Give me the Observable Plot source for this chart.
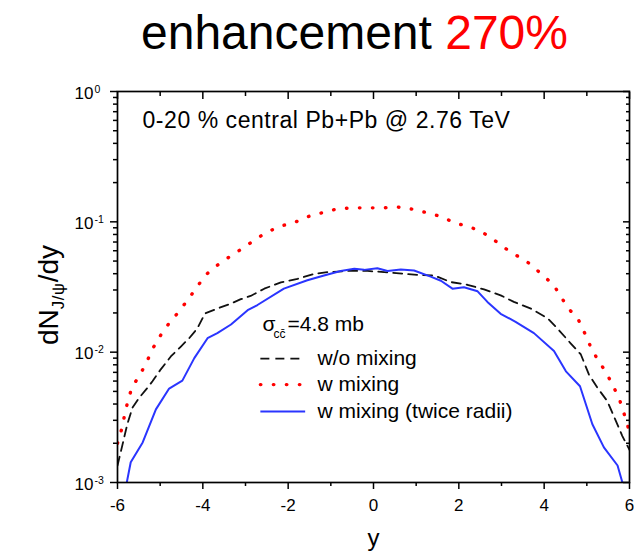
<!DOCTYPE html>
<html>
<head>
<meta charset="utf-8">
<script src="https://cdn.jsdelivr.net/npm/d3@7"></script>
<script src="https://cdn.jsdelivr.net/npm/@observablehq/plot@0.6"></script>
<style>
  html, body { margin: 0; padding: 0; background: #fff; }
  #page { position: relative; width: 634px; height: 552px; font-family: "Liberation Sans", Arial, sans-serif; color: #000; }
  #title { position: relative; width: 634px; height: 70px; }
  #title span.t { position: absolute; left: 141px; top: 9px; font-size: 48px; line-height: 48px; white-space: nowrap; }
  #title .red { color: #ff0000; }
  #ylab { position: absolute; left: 54px; top: 295px; transform: translate(-50%, -50%) rotate(-90deg);
          font-size: 28px; line-height: 28px; white-space: nowrap; }
  #ylab sub { font-size: 0.6em; vertical-align: -0.3em; letter-spacing: 0.6px; }
  svg { display: block; }
</style>
</head>
<body>
<div id="page">
  <div id="title"><span class="t">enhancement <span class="red">270%</span></span></div>
  <div id="chart"></div>
  <div id="ylab">dN<sub>J/ψ</sub>/dy</div>
</div>
<script>
// J/psi rapidity distributions, 0-20% central Pb+Pb at 2.76 TeV
// without mixing (black dashed)
const rapWo = [-6.0,-5.88,-5.77,-5.65,-5.49,-5.30,-5.18,-4.99,-4.75,-4.52,-4.32,-4.13,-3.95,-3.66,-3.34,-3.11,-2.88,-2.56,-2.17,-1.78,-1.39,-1.08,-0.53,-0.14,0.25,1.03,1.42,1.81,2.20,2.59,2.98,3.29,3.69,4.08,4.31,4.62,4.86,5.05,5.25,5.48,5.68,5.83,6.0];
const dndyWo = [0.00135,0.00197,0.0028,0.00375,0.00447,0.00532,0.00598,0.00735,0.00927,0.0110,0.0128,0.0152,0.0198,0.0216,0.0236,0.0255,0.0270,0.0307,0.0343,0.0365,0.0399,0.0411,0.0421,0.0420,0.0411,0.0392,0.0388,0.0345,0.0329,0.0303,0.0273,0.0243,0.0216,0.0182,0.0152,0.0117,0.0096,0.00673,0.00532,0.00421,0.00297,0.00228,0.00178];

// with mixing (red dotted)
const rapMix = [-6.0,-5.90,-5.83,-5.75,-5.66,-5.47,-5.31,-5.16,-4.99,-4.79,-4.56,-4.35,-4.14,-3.94,-3.67,-3.39,-3.09,-2.81,-2.51,-2.18,-1.84,-1.52,-1.18,-0.84,-0.48,-0.13,0.21,0.56,0.91,1.27,1.58,1.91,2.25,2.55,2.83,3.11,3.43,3.69,3.94,4.21,4.40,4.57,4.80,4.95,5.09,5.25,5.44,5.60,5.76,5.87,5.97];
const dndyMix = [0.0020,0.00258,0.00334,0.00431,0.00539,0.00673,0.00849,0.01086,0.01346,0.0167,0.0205,0.0253,0.0315,0.039,0.0462,0.0535,0.0619,0.0717,0.083,0.0926,0.0993,0.110,0.118,0.126,0.128,0.128,0.128,0.130,0.125,0.117,0.110,0.098,0.0916,0.0834,0.0724,0.062,0.0532,0.0471,0.0395,0.0332,0.0264,0.0216,0.0178,0.0140,0.0110,0.0088,0.0071,0.00565,0.00439,0.0034,0.00264];

// with mixing, twice radii (blue solid)
const rapTwice = [-5.78,-5.69,-5.41,-5.10,-4.79,-4.48,-4.20,-3.89,-3.66,-3.34,-2.95,-2.72,-2.10,-1.55,-1.16,-0.77,-0.45,-0.22,0.09,0.33,0.64,0.95,1.34,1.58,1.85,2.12,2.44,2.67,2.98,3.33,3.76,4.23,4.51,4.84,5.13,5.40,5.72,5.83];
const dndyTwice = [0.00101,0.00143,0.00203,0.00364,0.00526,0.00605,0.0090,0.0128,0.0140,0.0163,0.0210,0.0230,0.0307,0.0356,0.0388,0.0420,0.0436,0.0428,0.0441,0.0420,0.0430,0.0423,0.0380,0.0353,0.0307,0.0315,0.0293,0.0243,0.0197,0.0171,0.0140,0.0102,0.00713,0.00548,0.0028,0.00186,0.00135,0.00101];

// axis ticks
const xMajor = [-6,-4,-2,0,2,4,6];
const xMinor = [-5,-3,-1,1,3,5];
const yMajor = [1, 0.1, 0.01, 0.001];
const yExponent = ["0", "-1", "-2", "-3"];
const yMinor = [0.002,0.003,0.004,0.005,0.006,0.007,0.008,0.009,
                0.02,0.03,0.04,0.05,0.06,0.07,0.08,0.09,
                0.2,0.3,0.4,0.5,0.6,0.7,0.8,0.9];

// legend entries
const seriesNames = ["w/o mixing", "w mixing", "w mixing (twice radii)"];
const headerText = "0-20 % central Pb+Pb @ 2.76 TeV";

const toRows = (xs, ys) => xs.map((x, i) => ({rap: x, dndy: ys[i]}));
const wo = toRows(rapWo, dndyWo);
const mix = toRows(rapMix, dndyMix);
const twice = toRows(rapTwice, dndyTwice);

const FONT = "Liberation Sans, Arial, sans-serif";
const styleWo = {stroke: "#111", strokeWidth: 1.8, strokeDasharray: "9,6"};
const styleMix = {stroke: "#ff0000", strokeWidth: 3.4, strokeDasharray: "0.5,12.5", strokeLinecap: "round"};
const styleTwice = {stroke: "#2a35ff", strokeWidth: 2};

// legend placement (data units)
const swatchX = [-2.64, -1.59];
const legendTextX = -1.31;
const swatchY = [0.00893, 0.00564, 0.0035];

const blank = () => "";

const chart = Plot.plot({
  width: 634,
  height: 482,
  marginLeft: 117,
  marginRight: 5,
  marginTop: 21,
  marginBottom: 70,
  style: {fontFamily: FONT, background: "white", color: "black", overflow: "visible"},
  x: {domain: [-6, 6], axis: null},
  y: {type: "log", domain: [0.001, 1], axis: null},
  marks: [
    // curves
    Plot.line(wo, {x: "rap", y: "dndy", ...styleWo, clip: true}),
    Plot.line(mix, {x: "rap", y: "dndy", ...styleMix, clip: true}),
    Plot.line(twice, {x: "rap", y: "dndy", ...styleTwice, clip: true}),

    // frame and ticks
    Plot.frame({stroke: "black", strokeWidth: 1.7}),
    Plot.axisX(xMajor, {anchor: "bottom", tickSize: 7, tickPadding: 9, fontSize: 17, strokeWidth: 1.5,
                        tickFormat: d => String(d), label: null}),
    Plot.axisX(xMinor, {anchor: "bottom", tickSize: 4, strokeWidth: 1.5, tickFormat: blank, label: null}),
    Plot.axisX(xMajor, {anchor: "top", tickSize: -7, strokeWidth: 1.5, tickFormat: blank, label: null}),
    Plot.axisX(xMinor, {anchor: "top", tickSize: -4, strokeWidth: 1.5, tickFormat: blank, label: null}),
    Plot.axisY(yMajor, {anchor: "left", tickSize: 7, strokeWidth: 1.5, tickFormat: blank, label: null}),
    Plot.axisY(yMinor, {anchor: "left", tickSize: 4, strokeWidth: 1.5, tickFormat: blank, label: null}),
    Plot.axisY(yMajor, {anchor: "right", tickSize: -7, strokeWidth: 1.5, tickFormat: blank, label: null}),
    Plot.axisY(yMinor, {anchor: "right", tickSize: -4, strokeWidth: 1.5, tickFormat: blank, label: null}),

    // y tick labels as powers of ten
    Plot.text(yMajor, {y: d => d, frameAnchor: "left", text: () => "10", textAnchor: "end",
                       lineAnchor: "bottom", dx: -24, dy: 7, fontSize: 17}),
    Plot.text(yMajor, {y: d => d, frameAnchor: "left", text: (d, i) => yExponent[i], textAnchor: "start",
                       lineAnchor: "bottom", dx: -23, dy: 1, fontSize: 10.5}),

    // x axis title
    Plot.text(["y"], {frameAnchor: "bottom", lineAnchor: "bottom", dy: 63, fontSize: 24}),

    // header
    Plot.text([headerText], {frameAnchor: "top-left", textAnchor: "start", lineAnchor: "bottom",
                             dx: 25, dy: 36, fontSize: 23}),

    // legend
    Plot.text(["σ"], {frameAnchor: "top-left", textAnchor: "start", lineAnchor: "bottom", dx: 145, dy: 239, fontSize: 21}),
    Plot.text(["cc\u0304"], {frameAnchor: "top-left", textAnchor: "start", lineAnchor: "bottom", dx: 156, dy: 246, fontSize: 12}),
    Plot.text(["=4.8 mb"], {frameAnchor: "top-left", textAnchor: "start", lineAnchor: "bottom", dx: 170, dy: 239, fontSize: 21}),
    Plot.ruleY([swatchY[0]], {x1: swatchX[0], x2: swatchX[1], ...styleWo}),
    Plot.ruleY([swatchY[1]], {x1: swatchX[0], x2: swatchX[1], ...styleMix}),
    Plot.ruleY([swatchY[2]], {x1: swatchX[0], x2: swatchX[1], ...styleTwice}),
    Plot.text(seriesNames, {x: () => legendTextX, y: (d, i) => swatchY[i], text: d => d,
                            textAnchor: "start", lineAnchor: "middle", fontSize: 21}),
  ]
});

// the header runs slightly wider than the default spacing
d3.select(chart).selectAll("text")
  .filter(function() { return this.textContent === headerText; })
  .style("letter-spacing", "0.55px");

document.getElementById("chart").appendChild(chart);
</script>
</body>
</html>
